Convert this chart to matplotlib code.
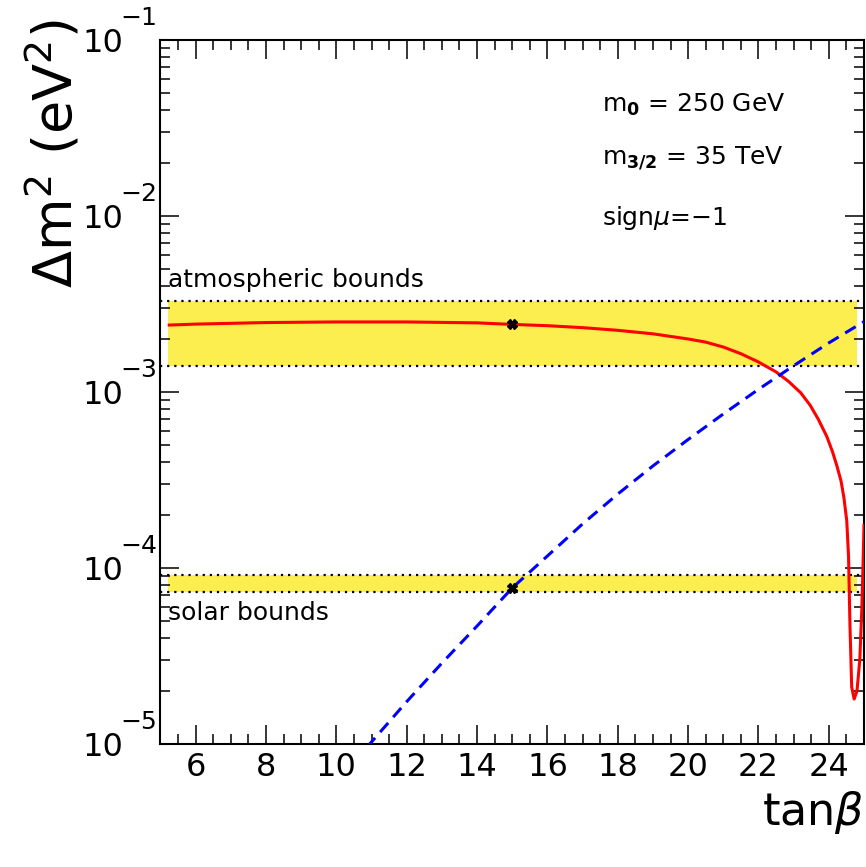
import numpy as np
import matplotlib
matplotlib.use("Agg")
import matplotlib.pyplot as plt
from matplotlib.ticker import MultipleLocator, LogLocator, NullFormatter
from matplotlib.transforms import blended_transform_factory, offset_copy

plt.rcParams['font.family'] = ['DejaVu Sans']
plt.rcParams['mathtext.fontset'] = 'dejavusans'

# red solid curve: atmospheric mass splitting vs tan(beta)
tb_atm = [5.25, 6, 8, 10, 12, 14, 15, 16, 17, 18, 19, 20, 20.5, 21, 21.5, 22,
          22.5, 22.85, 23.2, 23.47, 23.7, 23.94, 24.1, 24.23, 24.35, 24.43,
          24.51, 24.56, 24.6, 24.65, 24.72, 24.8, 24.88, 24.94, 24.98, 25.0]
dm_atm = [2.40e-3, 2.43e-3, 2.48e-3, 2.50e-3, 2.50e-3, 2.47e-3, 2.42e-3,
          2.38e-3, 2.32e-3, 2.24e-3, 2.14e-3, 2.0e-3, 1.92e-3, 1.80e-3, 1.65e-3,
          1.48e-3, 1.30e-3, 1.15e-3, 9.9e-4, 8.4e-4, 7.0e-4, 5.6e-4, 4.6e-4,
          3.8e-4, 3.1e-4, 2.5e-4, 1.85e-4, 1.17e-4, 4.8e-5, 2.1e-5, 1.8e-5,
          2.0e-5, 3.0e-5, 6.0e-5, 1.2e-4, 1.75e-4]

# blue dashed curve: solar mass splitting vs tan(beta)
tb_sol = [10.5, 10.95, 12, 13, 14, 15, 16, 17, 18, 19, 20, 21, 22, 23, 24, 25]
dm_sol = [7.9e-6, 1.0e-5, 1.74e-5, 2.88e-5, 4.68e-5, 7.7e-5, 1.17e-4, 1.78e-4,
          2.63e-4, 3.8e-4, 5.37e-4, 7.5e-4, 1.035e-3, 1.41e-3, 1.9e-3, 2.51e-3]

# reference points at tan(beta) = 15
mark_tb = [15, 15]
mark_dm = [2.42e-3, 7.7e-5]

# experimental bounds
atm_bounds = [1.4e-3, 3.3e-3]
sol_bounds = [7.3e-5, 9.1e-5]
band_x = [5.2, 24.8]

x_ticks = [6, 8, 10, 12, 14, 16, 18, 20, 22, 24]
y_ticks = [1e-5, 1e-4, 1e-3, 1e-2, 1e-1]
y_exps = ['\u22125', '\u22124', '\u22123', '\u22122', '\u22121']

fig = plt.figure(figsize=(8.66, 8.67), dpi=100)
ax = fig.add_axes([0.1853, 0.1419, 0.8124, 0.812])

ax.fill_between(band_x, atm_bounds[0], atm_bounds[1], color='#fcee4e', lw=0, zorder=1)
ax.fill_between(band_x, sol_bounds[0], sol_bounds[1], color='#fcee4e', lw=0, zorder=1)
for b in atm_bounds + sol_bounds:
    ax.axhline(b, color='black', lw=1.6, ls=(0, (1, 2.2)), zorder=2)

ax.plot(tb_atm, dm_atm, color='#ff0000', lw=2.2, zorder=3)
ax.plot(tb_sol, dm_sol, color='#0000ff', lw=2.2, ls=(0, (4, 2.5)), zorder=3)
ax.plot(mark_tb, mark_dm, ls='none', marker='X', ms=7, color='black', zorder=4)

ax.set_yscale('log')
ax.set_xlim(5, 25)
ax.set_ylim(1e-5, 1e-1)

ax.set_xticks(x_ticks)
ax.xaxis.set_minor_locator(MultipleLocator(0.5))
ax.set_yticks(y_ticks)
ax.set_yticklabels(['10'] * len(y_ticks))
ax.yaxis.set_minor_locator(LogLocator(base=10, subs=np.arange(2, 10), numticks=20))
ax.yaxis.set_minor_formatter(NullFormatter())

ax.tick_params(which='both', direction='in', top=True, right=True, width=1.1)
ax.tick_params(which='major', length=13.5)
ax.tick_params(which='minor', length=7)
ax.tick_params(axis='x', labelsize=23, pad=6)
ax.tick_params(axis='y', labelsize=23, pad=27)
for s in ax.spines.values():
    s.set_linewidth(1.5)

# ROOT-like exponents sitting above the "10"
tr = blended_transform_factory(ax.transAxes, ax.transData)
tr_exp = offset_copy(tr, fig=fig, x=-3, y=15, units='dots')
for v, e in zip(y_ticks, y_exps):
    ax.text(0, v, e, transform=tr_exp, fontsize=18, ha='right', va='baseline')

ax.set_xlabel(r'tan$\beta$', fontsize=32, loc='right', labelpad=4)
ax.set_ylabel(r'$\Delta$m$^{2}$ (eV$^{2}$)', fontsize=39, loc='top')
ax.yaxis.set_label_coords(-0.11, 1.03)

ax.text(0.0107, 0.649, 'atmospheric bounds', transform=ax.transAxes,
        fontsize=18, va='baseline', ha='left')
ax.text(0.0107, 0.176, 'solar bounds', transform=ax.transAxes,
        fontsize=18, va='baseline', ha='left')
ax.text(0.6276, 0.898, r'm$_{\mathbf{0}}$ = 250 GeV', transform=ax.transAxes,
        fontsize=18, va='baseline', ha='left')
ax.text(0.6276, 0.824, r'm$_{\mathbf{3/2}}$ = 35 TeV', transform=ax.transAxes,
        fontsize=18, va='baseline', ha='left')
ax.text(0.6276, 0.737, r'sign$\mu$=$-$1', transform=ax.transAxes,
        fontsize=18, va='baseline', ha='left')

fig.savefig('out.png', dpi=100)
